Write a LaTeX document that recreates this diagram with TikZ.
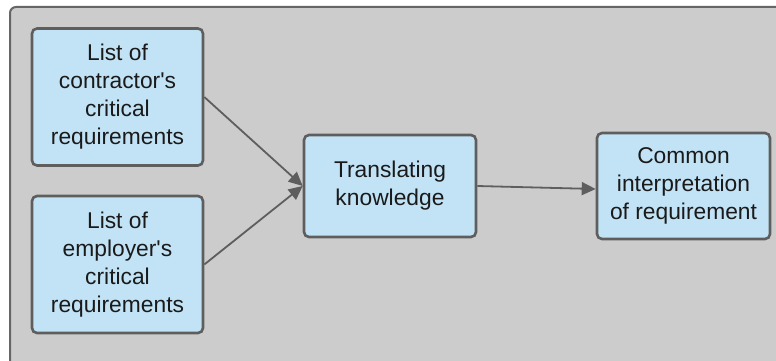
\documentclass[tikz,border=0pt]{standalone}
\usepackage{fontspec}
\setmainfont{Liberation Sans}
\usetikzlibrary{arrows.meta}
\definecolor{boxfill}{HTML}{C2E3F5}
\definecolor{boxline}{HTML}{5E5E5E}
\definecolor{panel}{HTML}{CCCCCC}
\definecolor{panelline}{HTML}{666666}
\definecolor{txt}{HTML}{1A1A1A}
\tikzset{
  box/.style={draw=boxline, line width=2.6pt, fill=boxfill, rounded corners=5pt,
    inner sep=0pt, align=center, text=txt,
    font=\fontsize{22.8}{28}\selectfont},
  conn/.style={draw=boxline, line width=1.8pt, -{Triangle[length=14pt,width=13pt]}}
}
\begin{document}
\begin{tikzpicture}[x=1pt,y=-1pt]
\useasboundingbox (0,0) rectangle (776,361);
\clip (0,0) rectangle (776,361);
\fill[white] (0,0) rectangle (776,361);
\draw[fill=panel, draw=panelline, line width=2pt, rounded corners=6pt] (10,7) rectangle (800,380);
\node[box, minimum width=171pt, minimum height=137pt] (a) at (117.5,97) {List of\\contractor\textquotesingle s\\critical\\requirements};
\node[box, minimum width=171pt, minimum height=137pt] (b) at (117.5,264.5) {List of\\employer\textquotesingle s\\critical\\requirements};
\node[box, minimum width=172pt, minimum height=102pt] (t) at (390,186) {Translating\\knowledge};
\node[box, minimum width=173pt, minimum height=106pt] (c) at (683.5,186) {Common\\interpretation\\of requirement};
\draw[conn] (a.east) -- (t.west);
\draw[conn] (b.east) -- (t.west);
\draw[conn] (t.east) -- ([yshift=-3pt]c.west);
\end{tikzpicture}
\end{document}
